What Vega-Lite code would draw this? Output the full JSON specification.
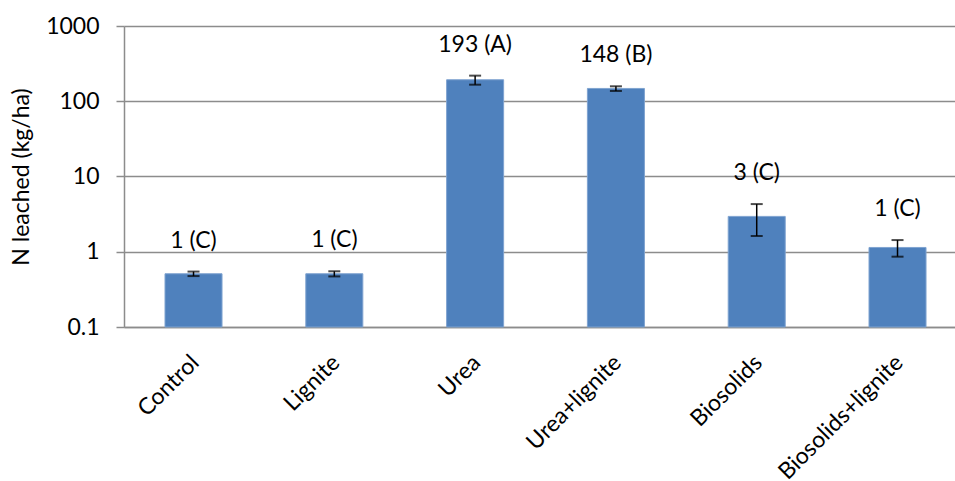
{
  "$schema": "https://vega.github.io/schema/vega-lite/v6.json",
  "autosize": {"type": "none"},
  "padding": {"left": 124, "top": 26, "right": 0, "bottom": 154},
  "width": 831,
  "height": 301,
  "background": "white",
  "config": {
    "view": {"stroke": null},
    "font": "Lato"
  },
  "data": {
    "values": [
      {"treatment": "Control", "value": 0.51, "lo": 0.475, "hi": 0.545, "label": "1 (C)"},
      {"treatment": "Lignite", "value": 0.51, "lo": 0.47, "hi": 0.55, "label": "1 (C)"},
      {"treatment": "Urea", "value": 193, "lo": 166, "hi": 219, "label": "193 (A)"},
      {"treatment": "Urea+lignite", "value": 148, "lo": 137, "hi": 158, "label": "148 (B)"},
      {"treatment": "Biosolids", "value": 2.95, "lo": 1.62, "hi": 4.3, "label": "3 (C)"},
      {"treatment": "Biosolids+lignite", "value": 1.14, "lo": 0.86, "hi": 1.43, "label": "1 (C)"}
    ]
  },
  "encoding": {
    "x": {
      "field": "treatment",
      "type": "nominal",
      "sort": null,
      "scale": {"paddingInner": 0.595, "paddingOuter": 0.2485, "align": 0.586},
      "axis": {
        "title": null,
        "labelAngle": -45,
        "labelAlign": "right",
        "labelBaseline": "top",
        "labelPadding": 24,
        "labelOffset": -6,
        "labelFontSize": 23,
        "labelColor": "#000000",
        "ticks": false,
        "domainColor": "#8c8c8c",
        "domainWidth": 1.5,
        "grid": false
      }
    }
  },
  "layer": [
    {
      "mark": {"type": "bar", "color": "#4F81BD", "stroke": "#7FA3D0", "strokeWidth": 1},
      "encoding": {
        "y": {
          "field": "value",
          "type": "quantitative",
          "scale": {"type": "log", "domain": [0.1, 1000], "nice": false},
          "axis": {
            "title": "N leached (kg/ha)",
            "titleFontSize": 23,
            "titleFontWeight": "normal",
            "titleColor": "#000000",
            "titlePadding": 12,
            "values": [0.1, 1, 10, 100, 1000],
            "labelExpr": "'' + datum.value",
            "labelFontSize": 23,
            "labelColor": "#000000",
            "labelPadding": 17,
            "tickSize": 8,
            "tickColor": "#8c8c8c",
            "tickWidth": 1.5,
            "domainColor": "#8c8c8c",
            "domainWidth": 1.5,
            "grid": true,
            "gridColor": "#8c8c8c",
            "gridWidth": 1.5
          }
        },
        "y2": {"datum": 0.1}
      }
    },
    {
      "mark": {"type": "errorbar", "color": "black", "thickness": 1.5, "ticks": {"size": 12, "thickness": 2, "color": "black"}},
      "encoding": {
        "y": {"field": "lo", "type": "quantitative", "title": "N leached (kg/ha)"},
        "y2": {"field": "hi"}
      }
    },
    {
      "mark": {"type": "text", "fontSize": 23, "dy": -31, "baseline": "middle", "color": "black"},
      "encoding": {
        "y": {"field": "hi", "type": "quantitative"},
        "text": {"field": "label"}
      }
    }
  ]
}
